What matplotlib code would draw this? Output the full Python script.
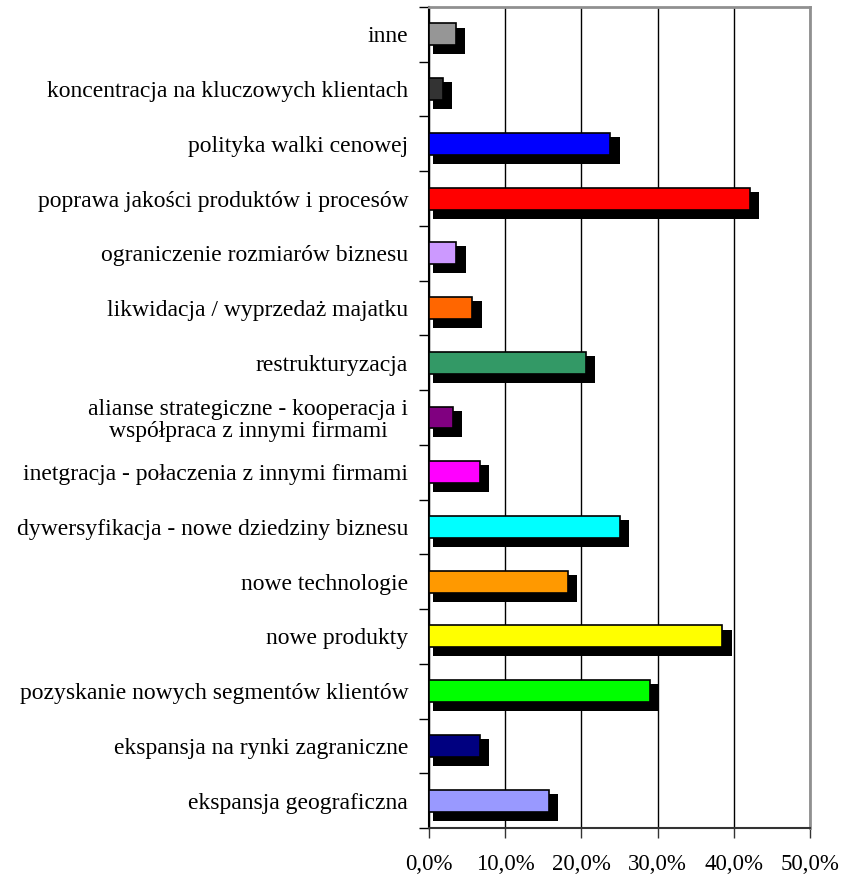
import matplotlib
matplotlib.use('Agg')
import matplotlib.pyplot as plt
from matplotlib.ticker import FixedLocator, FuncFormatter

# kategorie od dołu do góry
kategorie = ['ekspansja geograficzna',
             'ekspansja na rynki zagraniczne',
             'pozyskanie nowych segmentów klientów',
             'nowe produkty',
             'nowe technologie',
             'dywersyfikacja - nowe dziedziny biznesu',
             'inetgracja - połaczenia z innymi firmami',
             'alianse strategiczne - kooperacja i\nwspółpraca z innymi firmami',
             'restrukturyzacja',
             'likwidacja / wyprzedaż majatku',
             'ograniczenie rozmiarów biznesu',
             'poprawa jakości produktów i procesów',
             'polityka walki cenowej',
             'koncentracja na kluczowych klientach',
             'inne']

# udział odpowiedzi w %
udzial = [15.7, 6.7, 29.0, 38.5, 18.2, 25.1, 6.7, 3.1,
          20.6, 5.7, 3.6, 42.1, 23.8, 1.8, 3.5]

kolory = ['#9999FF', '#000080', '#00FF00', '#FFFF00', '#FF9900',
          '#00FFFF', '#FF00FF', '#800080', '#339966', '#FF6600',
          '#CC99FF', '#FF0000', '#0000FF', '#333333', '#969696']

os_x = [0, 10, 20, 30, 40, 50]

plt.rcParams['font.family'] = ['Liberation Serif', 'DejaVu Serif']

fig = plt.figure(figsize=(8.45, 8.76), dpi=100)
ax = fig.add_axes([0.5077, 0.0548, 0.4509, 0.9372])

y = list(range(len(kategorie)))
h = 0.40
# cień pod słupkami
ax.barh([v - 0.12 for v in y], [u + 0.7 for u in udzial], height=h + 0.09,
        left=0.5, color='black', zorder=2)
ax.barh(y, udzial, height=h, color=kolory, edgecolor='black',
        linewidth=1.2, zorder=3)

ax.set_xlim(0, 50)
ax.set_ylim(-0.5, len(kategorie) - 0.5)
ax.xaxis.set_major_locator(FixedLocator(os_x))
ax.xaxis.set_major_formatter(FuncFormatter(lambda v, p: f'{v:.1f}%'.replace('.', ',')))
ax.grid(axis='x', color='black', linewidth=1.0, zorder=1)

ax.set_yticks(y)
ax.set_yticklabels(kategorie, fontsize=17, multialignment='center', linespacing=1.05)
ax.yaxis.set_minor_locator(FixedLocator([v + 0.5 for v in range(-1, len(kategorie))]))
ax.tick_params(axis='y', which='major', length=0, pad=15)
ax.tick_params(axis='y', which='minor', length=7, width=1, color='black', direction='out')
ax.tick_params(axis='x', length=7, width=1, labelsize=16.5, pad=12, color='#333333')

for s in ['top', 'right']:
    ax.spines[s].set_color('#909090')
    ax.spines[s].set_linewidth(2)
ax.spines['left'].set_color('black')
ax.spines['left'].set_linewidth(1.5)
ax.spines['bottom'].set_color('#333333')
ax.spines['bottom'].set_linewidth(1.5)

fig.savefig('out.png', dpi=100)
